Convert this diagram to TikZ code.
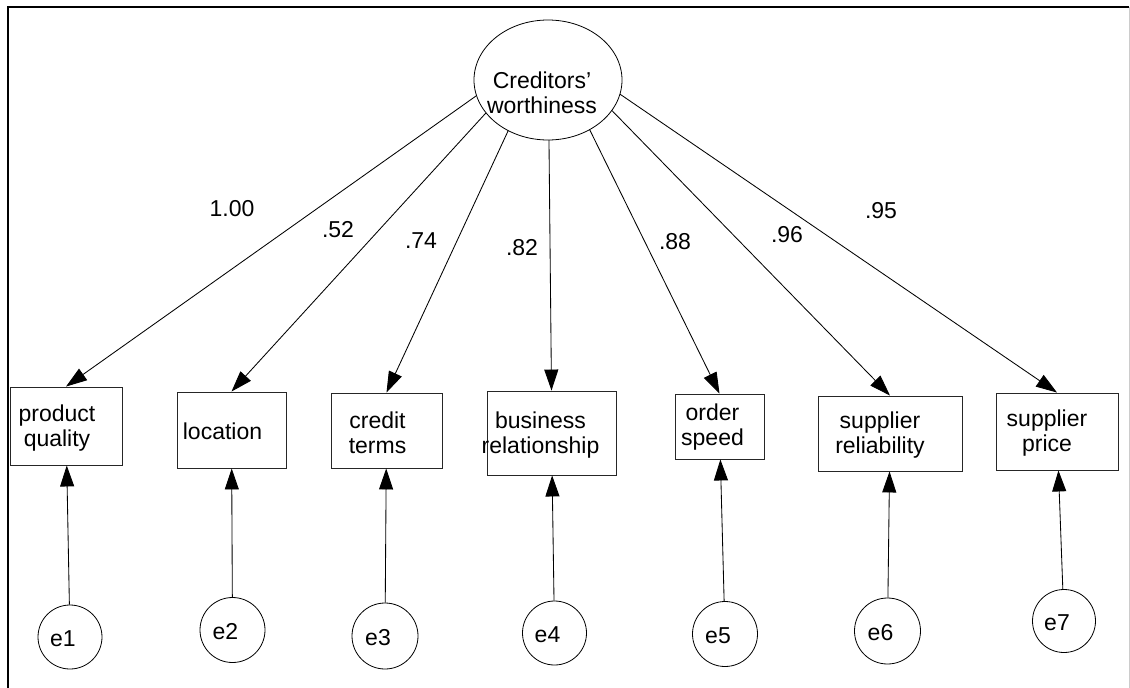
\documentclass[tikz,border=0pt]{standalone}
\usepackage{fontspec}
\setmainfont{Liberation Sans}
\usetikzlibrary{arrows.meta,shapes.geometric,intersections}
\begin{document}
\begin{tikzpicture}[x=1pt,y=-1pt,
  every node/.style={font=\fontsize{23}{25}\selectfont},
  box/.style={draw=black!85, line width=0.9pt, rectangle, inner sep=0pt},
  txt/.style={align=center, inner sep=0pt},
  err/.style={draw, circle, line width=0.8pt, inner sep=0pt},
  lat/.style={draw, ellipse, line width=0.8pt, inner sep=0pt, minimum width=148pt, minimum height=120pt},
  arr/.style={line width=0.85pt, -{Triangle[length=21pt,width=14pt]}},
  lbl/.style={inner sep=0pt}
]
\useasboundingbox (0,0) rectangle (1130,688);
% frame
\draw[line width=1.6pt] (8,688) -- (8,7) -- (1129,7);
\draw[black!20, line width=0.8pt] (1129,7) -- (1129,688);

% latent
\node[lat] (cw) at (548,80) {};
\node[txt] (cwt) at (542,93) {Creditors'\\worthiness};
\path[name path=ell] (cw.center) ellipse [x radius=74pt, y radius=60pt];
\coordinate (aim) at (548,45);

% observed boxes
\node[box, minimum width=112pt, minimum height=78pt] (pq) at (66,426) {};
\node[box, minimum width=109pt, minimum height=76pt] (loc) at (231.5,430) {};
\node[box, minimum width=111pt, minimum height=75pt] (ct) at (386.5,430.5) {};
\node[box, minimum width=129pt, minimum height=84pt] (br) at (551.5,433) {};
\node[box, minimum width=89pt, minimum height=65pt] (os) at (719.5,426.5) {};
\node[box, minimum width=144pt, minimum height=75pt] (sr) at (890,433.5) {};
\node[box, minimum width=122pt, minimum height=77pt] (sp) at (1057,431.5) {};

\node[txt] (pqt) at ([shift={(-9,2)}]pq.center) {product\\quality};
\node[txt] (loct) at ([shift={(-9,1)}]loc.center) {location};
\node[txt] (ctt) at ([shift={(-9,2)}]ct.center) {credit\\terms};
\node[txt] (brt) at ([shift={(-11,2)}]br.center) {business\\relationship};
\node[txt] (ost) at ([shift={(-7,1)}]os.center) {order\\speed};
\node[txt] (srt) at ([shift={(-10,2)}]sr.center) {supplier\\reliability};
\node[txt] (spt) at ([shift={(-10,2)}]sp.center) {supplier\\price};

% error terms
\node[err, minimum size=64pt] (e1) at (70,637) {};
\node[err, minimum size=65pt] (e2) at (232.5,630) {};
\node[err, minimum size=66pt] (e3) at (385,636) {};
\node[err, minimum size=64pt] (e4) at (554.5,633) {};
\node[err, minimum size=65pt] (e5) at (725,634) {};
\node[err, minimum size=66pt] (e6) at (887.5,631) {};
\node[err, minimum size=63pt] (e7) at (1064,621) {};

\node[lbl] (e1t) at ([shift={(-7,2)}]e1.center) {e1};
\node[lbl] (e2t) at ([shift={(-7,2)}]e2.center) {e2};
\node[lbl] (e3t) at ([shift={(-7,2)}]e3.center) {e3};
\node[lbl] (e4t) at ([shift={(-7,2)}]e4.center) {e4};
\node[lbl] (e5t) at ([shift={(-7,2)}]e5.center) {e5};
\node[lbl] (e6t) at ([shift={(-7,2)}]e6.center) {e6};
\node[lbl] (e7t) at ([shift={(-7,2)}]e7.center) {e7};

% loadings: from the ellipse border, aimed along the line to the box top
\foreach \b in {pq,loc,ct,br,os,sr,sp}{
  \path[name path=ln] (aim) -- (\b.north);
  \draw[arr, name intersections={of=ell and ln, by={s}}] (s) -- (\b.north);
}

% error arrows
\draw[arr] (e1) -- (pq);
\draw[arr] (e2) -- (loc);
\draw[arr] (e3) -- (ct);
\draw[arr] (e4) -- (br);
\draw[arr] (e5) -- (os);
\draw[arr] (e6) -- (sr);
\draw[arr] (e7) -- (sp);

% loading labels
\node[lbl] (l1) at (232,209) {1.00};
\node[lbl] (l2) at (338,230) {.52};
\node[lbl] (l3) at (421,241) {.74};
\node[lbl] (l4) at (522,248) {.82};
\node[lbl] (l5) at (675,242) {.88};
\node[lbl] (l6) at (787,235) {.96};
\node[lbl] (l7) at (881,211) {.95};
\end{tikzpicture}
\end{document}
